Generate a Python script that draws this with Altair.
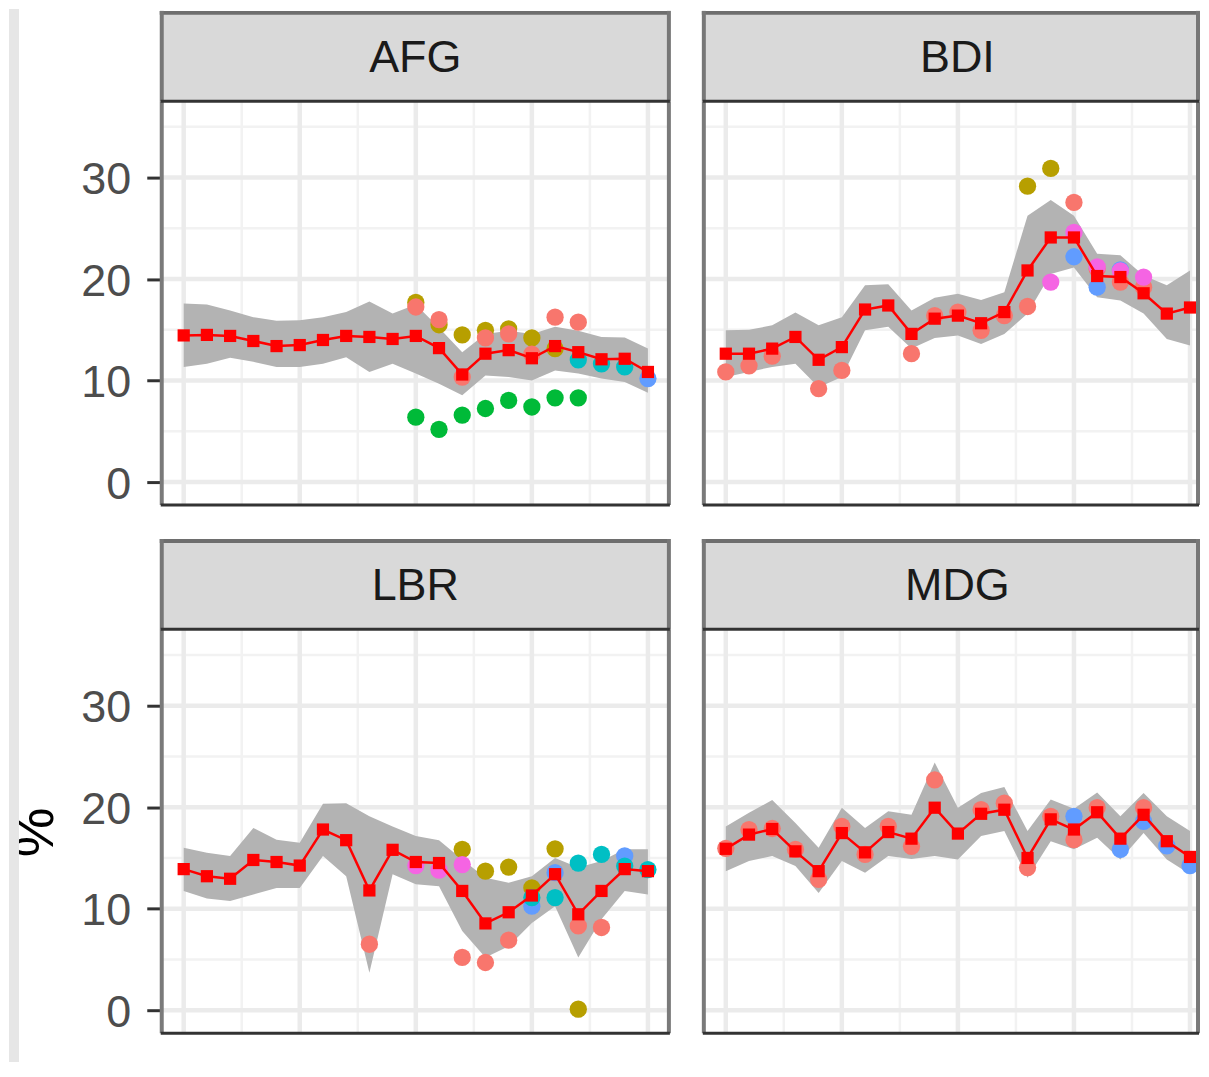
import altair as alt
import pandas as pd

YEARS = list(range(2000, 2021))
SOURCES = ["Source 1", "Source 2", "Source 3", "Source 4", "Source 5", "Source 6"]
COLORS = ["#F8766D", "#B79F00", "#00BA38", "#00BFC4", "#619CFF", "#F564E3"]
DRAW_ORDER = ["Source 2", "Source 3", "Source 5", "Source 4", "Source 1", "Source 6"]

Y_TICKS = [0, 10, 20, 30]
Y_MINOR = [5, 15, 25, 35]
X_MAJOR = [2000, 2005, 2010, 2015, 2020]
X_MINOR = [2002.5, 2007.5, 2012.5, 2017.5]

# ---- AFG ----
AFG_EST = [14.45, 14.5, 14.4, 13.9, 13.4, 13.5, 14.0, 14.4, 14.3, 14.1, 14.4, 13.2, 10.6, 12.65, 13.0, 12.2, 13.4, 12.8, 12.1, 12.15, 10.85]
AFG_HI = [17.6, 17.5, 16.9, 16.25, 15.9, 15.95, 16.25, 16.75, 17.8, 16.6, 17.5, 15.2, 12.8, 14.6, 14.9, 14.6, 15.3, 14.9, 14.3, 14.25, 13.15]
AFG_LO = [11.35, 11.65, 12.25, 11.85, 11.35, 11.35, 11.65, 12.3, 10.85, 11.65, 10.7, 9.7, 8.55, 10.5, 10.35, 10.0, 11.0, 10.7, 10.2, 9.85, 8.8]
AFG_OBS = {
    "Source 1": [(2010, 17.25), (2011, 16.0), (2012, 10.35), (2013, 14.2), (2014, 14.6), (2015, 12.6), (2016, 16.25), (2017, 15.75)],
    "Source 2": [(2010, 17.7), (2011, 15.5), (2012, 14.5), (2013, 14.95), (2014, 15.1), (2015, 14.2), (2016, 13.15)],
    "Source 3": [(2010, 6.4), (2011, 5.2), (2012, 6.6), (2013, 7.25), (2014, 8.05), (2015, 7.4), (2016, 8.3), (2017, 8.3)],
    "Source 4": [(2017, 12.05), (2018, 11.65), (2019, 11.35)],
    "Source 5": [(2020, 10.2)],
}

# ---- BDI ----
BDI_EST = [12.65, 12.65, 13.15, 14.3, 12.05, 13.3, 17.0, 17.4, 14.6, 16.1, 16.4, 15.65, 16.75, 20.85, 24.1, 24.1, 20.3, 20.2, 18.6, 16.6, 17.2]
BDI_HI = [14.95, 15.0, 15.45, 16.7, 15.45, 16.25, 19.4, 19.5, 16.9, 18.15, 18.55, 17.95, 18.7, 26.25, 27.8, 26.25, 22.5, 22.35, 20.35, 19.4, 20.85]
BDI_LO = [10.35, 10.85, 11.35, 11.65, 9.35, 10.35, 14.95, 15.3, 13.15, 14.2, 14.45, 13.6, 14.6, 16.6, 20.5, 21.15, 18.2, 17.9, 16.6, 14.1, 13.45]
BDI_OBS = {
    "Source 1": [(2000, 10.85), (2001, 11.45), (2002, 12.4), (2004, 9.2), (2005, 11.0), (2008, 12.65), (2009, 16.4), (2010, 16.75), (2011, 14.95), (2012, 16.4), (2013, 17.3), (2015, 27.55), (2016, 21.0), (2017, 19.7), (2018, 19.2)],
    "Source 2": [(2013, 29.15), (2014, 30.9)],
    "Source 5": [(2015, 22.2), (2016, 19.2), (2017, 20.9)],
    "Source 6": [(2014, 19.7), (2015, 24.6), (2016, 21.2), (2017, 20.8), (2018, 20.2)],
}

# ---- LBR ----
LBR_EST = [13.9, 13.2, 12.95, 14.8, 14.6, 14.25, 17.8, 16.75, 11.8, 15.8, 14.6, 14.5, 11.75, 8.55, 9.65, 11.3, 13.4, 9.45, 11.75, 13.9, 13.7]
LBR_HI = [16.0, 15.5, 15.2, 17.95, 16.8, 16.5, 20.35, 20.4, 19.1, 18.1, 17.15, 16.75, 14.85, 13.05, 12.55, 13.2, 15.0, 14.05, 14.7, 15.85, 15.85]
LBR_LO = [11.75, 11.0, 10.75, 11.4, 12.05, 12.05, 15.2, 13.2, 3.7, 13.4, 12.4, 12.2, 7.8, 5.2, 6.3, 8.6, 10.25, 5.2, 8.95, 11.75, 11.4]
LBR_OBS = {
    "Source 1": [(2008, 6.5), (2012, 5.2), (2013, 4.7), (2014, 6.9), (2017, 8.3), (2018, 8.15)],
    "Source 2": [(2012, 15.85), (2013, 13.7), (2014, 14.1), (2015, 12.05), (2016, 15.9), (2017, 0.1)],
    "Source 4": [(2015, 11.1), (2016, 11.1), (2017, 14.5), (2018, 15.35), (2019, 14.2), (2020, 13.85)],
    "Source 5": [(2015, 10.25), (2016, 13.55), (2019, 15.2)],
    "Source 6": [(2010, 14.25), (2011, 13.8), (2012, 14.35)],
}

# ---- MDG ----
MDG_EST = [15.9, 17.3, 17.85, 15.65, 13.7, 17.45, 15.55, 17.55, 16.9, 19.95, 17.4, 19.35, 19.75, 15.0, 18.8, 17.8, 19.5, 16.9, 19.25, 16.65, 15.1]
MDG_HI = [18.1, 19.45, 20.7, 18.45, 16.0, 19.95, 17.95, 19.6, 19.25, 24.4, 19.95, 21.4, 22.0, 17.65, 20.75, 19.85, 21.45, 19.1, 21.4, 19.1, 17.65]
MDG_LO = [13.7, 14.7, 15.2, 14.2, 11.55, 14.7, 13.55, 15.2, 14.9, 15.2, 14.85, 17.15, 17.65, 13.05, 16.65, 15.85, 17.0, 14.85, 17.45, 14.85, 13.4]
MDG_OBS = {
    "Source 1": [(2000, 15.95), (2001, 17.8), (2002, 17.9), (2003, 15.85), (2004, 12.9), (2005, 18.1), (2006, 15.35), (2007, 18.1), (2008, 16.15), (2009, 22.7), (2011, 19.75), (2012, 20.4), (2013, 14.05), (2014, 19.1), (2015, 16.8), (2016, 19.95), (2018, 19.95)],
    "Source 5": [(2015, 19.1), (2017, 15.85), (2018, 18.6), (2019, 16.2), (2020, 14.25)],
}

FONT = "Liberation Sans"
PANEL_H = 404
LEFT_W = 508
RIGHT_W = 495
X_MIN = 1999.054
Y_DOMAIN = [-2.26, 37.47]


def one():
    return pd.DataFrame({"k": [0]})


def cell(code, est, lo, hi, obs, width, first_col, top_row):
    x_max = X_MIN + width / 23.25
    xs = alt.Scale(domain=[X_MIN, x_max], nice=False, zero=False)
    ys = alt.Scale(domain=Y_DOMAIN, nice=False, zero=False)
    if first_col:
        yaxis = alt.Axis(values=Y_TICKS, title=None, grid=False, domain=False,
                         labelFont=FONT, labelFontSize=45, labelColor="#4D4D4D",
                         labelPadding=16, labelOffset=2, tickSize=15, tickWidth=3,
                         tickColor="#333333")
    else:
        yaxis = None

    def Y(field):
        return alt.Y(field, scale=ys, axis=yaxis)

    def X(field):
        return alt.X(field, scale=xs, axis=None)

    layers = []

    gx_minor = pd.DataFrame({"x": X_MINOR})
    gx_major = pd.DataFrame({"x": X_MAJOR})
    gy_minor = pd.DataFrame({"y": Y_MINOR})
    gy_major = pd.DataFrame({"y": Y_TICKS})
    layers.append(alt.Chart(gy_minor).mark_rule(color="#F2F2F2", strokeWidth=2.5).encode(
        y=Y("y:Q")))
    layers.append(alt.Chart(gx_minor).mark_rule(color="#F2F2F2", strokeWidth=2.5).encode(
        x=X("x:Q")))
    layers.append(alt.Chart(gy_major).mark_rule(color="#EBEBEB", strokeWidth=4.5).encode(
        y=Y("y:Q")))
    layers.append(alt.Chart(gx_major).mark_rule(color="#EBEBEB", strokeWidth=4.5).encode(
        x=X("x:Q")))

    est_df = pd.DataFrame({"year": YEARS, "est": est, "lo": lo, "hi": hi})
    layers.append(alt.Chart(est_df).mark_area(color="#B3B3B3", opacity=1).encode(
        x=X("year:Q"), y=Y("lo:Q"), y2=alt.Y2("hi:Q")))

    rows = []
    for src in DRAW_ORDER:
        for yr, v in obs.get(src, []):
            rows.append({"year": yr, "value": v, "source": src})
    obs_df = pd.DataFrame(rows)
    layers.append(alt.Chart(obs_df).mark_circle(size=300, opacity=1).encode(
        x=X("year:Q"), y=Y("value:Q"),
        color=alt.Color("source:N", scale=alt.Scale(domain=SOURCES, range=COLORS), legend=None)))

    layers.append(alt.Chart(est_df).mark_line(color="#FF0000", strokeWidth=2.5).encode(
        x=X("year:Q"), y=Y("est:Q")))
    layers.append(alt.Chart(est_df).mark_point(shape="square", filled=True, color="#FF0000",
                                               size=150, opacity=1).encode(
        x=X("year:Q"), y=Y("est:Q")))

    # panel frame
    layers.append(alt.Chart(one()).mark_rule(color="#7A7A7A", strokeWidth=4).encode(
        x=alt.value(0), y=alt.value(0), y2=alt.value(PANEL_H)))
    layers.append(alt.Chart(one()).mark_rule(color="#7A7A7A", strokeWidth=4).encode(
        x=alt.value(width), y=alt.value(0), y2=alt.value(PANEL_H)))
    layers.append(alt.Chart(one()).mark_rule(color="#333333", strokeWidth=3).encode(
        x=alt.value(-1), x2=alt.value(width + 1), y=alt.value(PANEL_H)))

    # strip on top
    layers.append(alt.Chart(one()).mark_rect(color="#D9D9D9").encode(
        x=alt.value(0), x2=alt.value(width), y=alt.value(-91), y2=alt.value(0)))
    layers.append(alt.Chart(one()).mark_rule(color="#6E6E6E", strokeWidth=4).encode(
        x=alt.value(-2), x2=alt.value(width + 1), y=alt.value(-89)))
    layers.append(alt.Chart(one()).mark_rule(color="#777777", strokeWidth=4).encode(
        x=alt.value(0), y=alt.value(-91), y2=alt.value(0)))
    layers.append(alt.Chart(one()).mark_rule(color="#777777", strokeWidth=4).encode(
        x=alt.value(width), y=alt.value(-91), y2=alt.value(0)))
    layers.append(alt.Chart(one()).mark_rule(color="#333333", strokeWidth=3).encode(
        x=alt.value(-1), x2=alt.value(width + 1), y=alt.value(-0.5)))
    layers.append(alt.Chart(pd.DataFrame({"label": [code]})).mark_text(
        font=FONT, fontSize=45, color="#1A1A1A", align="center", baseline="middle"
    ).encode(text="label:N", x=alt.value(LEFT_W / 2), y=alt.value(-44)))

    if first_col and top_row:
        # axis title "%" partly under the grey band at the far left
        layers.append(
            alt.Chart(pd.DataFrame({"t": ["%"]})).mark_text(
                font=FONT, fontSize=56, color="#000000", angle=270,
                align="center", baseline="top"
            ).encode(text="t:N", x=alt.value(-153), y=alt.value(732))
        )
        layers.append(
            alt.Chart(one()).mark_rect(color="#E6E6E6").encode(
                x=alt.value(-153), x2=alt.value(-143), y=alt.value(-93), y2=alt.value(962))
        )

    return alt.layer(*layers).properties(width=width, height=PANEL_H)


c00 = cell("AFG", AFG_EST, AFG_LO, AFG_HI, AFG_OBS, LEFT_W, True, True)
c01 = cell("BDI", BDI_EST, BDI_LO, BDI_HI, BDI_OBS, RIGHT_W, False, True)
c10 = cell("LBR", LBR_EST, LBR_LO, LBR_HI, LBR_OBS, LEFT_W, True, False)
c11 = cell("MDG", MDG_EST, MDG_LO, MDG_HI, MDG_OBS, RIGHT_W, False, False)

chart = alt.concat(
    c00, c01, c10, c11,
    columns=2,
    spacing={"row": 125, "column": 35},
    bounds="flush",
).properties(padding=0, background="white").configure_view(strokeWidth=0)

chart.save("out.html", embed_options={"renderer": "svg", "actions": False})
